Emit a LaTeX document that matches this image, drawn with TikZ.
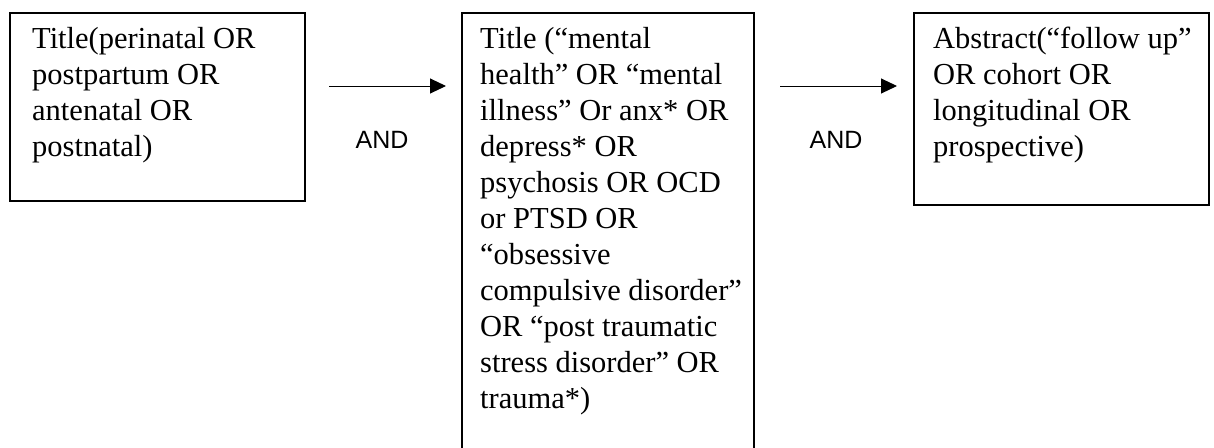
\documentclass[tikz,border=0pt]{standalone}
\usepackage{fontspec}
\setmainfont{Liberation Serif}
\newfontfamily\andfont{Liberation Sans}
\usetikzlibrary{arrows.meta}
\tikzset{
  x=1pt, y=-1pt,
  boxframe/.style={draw=black, line width=1.8pt, anchor=north west, inner sep=0pt},
  boxtext/.style={anchor=north west, inner sep=0pt, align=left, font=\fontsize{30.5}{36}\selectfont},
  andlabel/.style={font=\andfont\fontsize{25}{30}\selectfont, inner sep=0pt},
  conn/.style={line width=1pt, -{Triangle[length=16pt,width=15pt]}}
}
\begin{document}
\begin{tikzpicture}
\clip (0,0) rectangle (1214,447);
\fill[white] (0,0) rectangle (1214,447);
% boxes
\node[boxframe, minimum width=295pt, minimum height=188pt] (b1) at (9,12) {};
\node[boxframe, minimum width=292pt, minimum height=460pt] (b2) at (461,12) {};
\node[boxframe, minimum width=295pt, minimum height=192pt] (b3) at (913,12) {};
% texts
\node[boxtext] (t1) at (32,27) {Title(perinatal OR\\postpartum OR\\antenatal OR\\postnatal)};
\node[boxtext] (t2) at (480,27) {Title (“mental\\health” OR “mental\\illness” Or anx* OR\\depress* OR\\psychosis OR OCD\\or PTSD OR\\“obsessive\\compulsive disorder”\\OR “post traumatic\\stress disorder” OR\\trauma*)};
\node[boxtext] (t3) at (933,27) {Abstract(“follow up”\\OR cohort OR\\longitudinal OR\\prospective)};
% connectors
\coordinate (a1s) at (329,86);
\coordinate (a1e) at (446,86);
\coordinate (a2s) at (780,86);
\coordinate (a2e) at (897,86);
\draw[conn] (a1s) -- (a1e);
\draw[conn] (a2s) -- (a2e);
\node[andlabel] (and1) at (382,140) {AND};
\node[andlabel] (and2) at (836,140) {AND};
\end{tikzpicture}
\end{document}
